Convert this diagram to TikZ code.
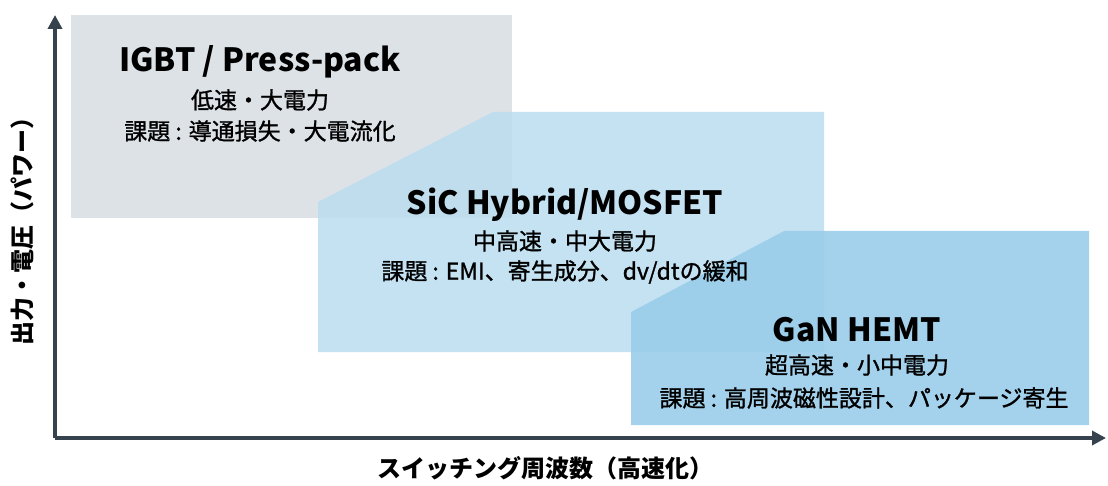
\documentclass[tikz,border=0pt]{standalone}
\usepackage{fontspec}
\setmainfont{Noto Sans CJK JP}
\newfontfamily\medfont[FakeBold=1.2]{Noto Sans CJK JP}
\usetikzlibrary{arrows.meta}
\definecolor{axis}{HTML}{36424E}
\definecolor{graybox}{HTML}{DDE2E7}
\definecolor{sicbox}{HTML}{BBDDF0}
\definecolor{ganbox}{HTML}{9ACDEA}
\tikzset{
  title/.style={font=\fontsize{32}{36}\selectfont\bfseries, text=black},
  sub/.style={font=\fontsize{23}{27}\selectfont\medfont, text=black},
  ax/.style={line width=3.5pt, draw=axis, -{Triangle[length=14pt,width=14pt]}},
  axlabel/.style={font=\fontsize{24}{28}\selectfont\bfseries, text=black}
}
\begin{document}
\begin{tikzpicture}[x=1pt,y=-1pt]
\useasboundingbox (0,0) rectangle (1108,486);
\fill[graybox] (71,15) rectangle (512,218);
\fill[sicbox, opacity=0.85] (318,202) -- (493,112) -- (824,112) -- (824,352) -- (318,352) -- cycle;
\fill[ganbox, opacity=0.9] (631,312) -- (784,231) -- (1089,231) -- (1089,425) -- (631,425) -- cycle;
\coordinate (o) at (55,438);
\coordinate (ytip) at (55,15);
\coordinate (xtip) at (1106,438);
\draw[ax] (o) -- (ytip);
\draw[ax] (o) -- (xtip);
\node[title] (t1) at (260,62) {IGBT / Press-pack};
\node[sub] (s1a) at (260,100) {低速・大電力};
\node[sub] (s1b) at (260,131) {課題 : 導通損失・大電流化};
\node[title] (t2) at (565,205) {SiC Hybrid/MOSFET};
\node[sub] (s2a) at (565,241) {中高速・中大電力};
\node[sub] (s2b) at (565,272) {課題 : EMI、寄生成分、dv/dtの緩和};
\node[title] (t3) at (857,330) {GaN HEMT};
\node[sub] (s3a) at (857,365) {超高速・小中電力};
\node[sub] (s3b) at (864,398) {課題 : 高周波磁性設計、パッケージ寄生};
\node[axlabel] (xl) at (545,468) {スイッチング周波数（高速化）};
\node[axlabel, rotate=90] (yl) at (22,225) {出力・電圧（パワー）};
\end{tikzpicture}
\end{document}
